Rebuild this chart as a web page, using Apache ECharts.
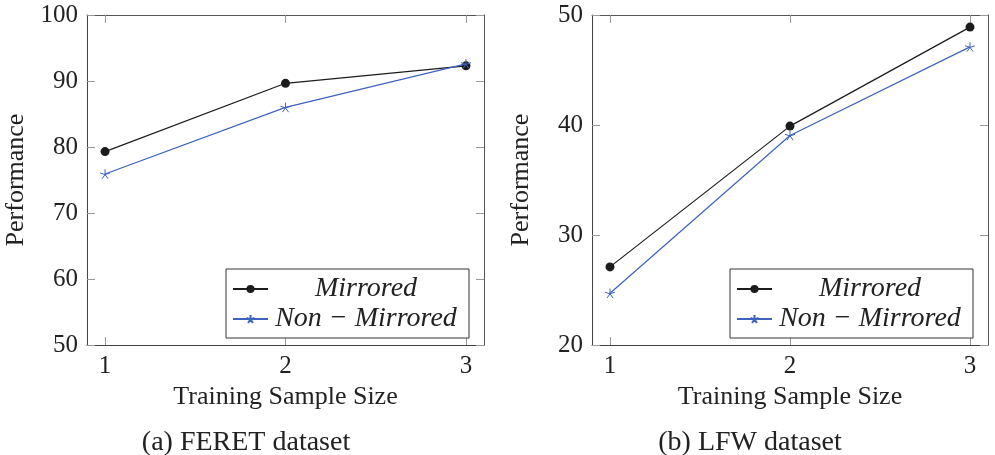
<!DOCTYPE html>
<html>
<head>
<meta charset="utf-8">
<script src="https://cdn.jsdelivr.net/npm/echarts@6/dist/echarts.min.js"></script>
<style>
html,body{margin:0;padding:0;background:#fff;}
#chart{width:995px;height:455px;}
</style>
</head>
<body>
<div id="chart"></div>
<script>
// ---- data ----
const xValues = [1, 2, 3];
const seriesNames = ['Mirrored', 'Non \u2212 Mirrored'];
const feretMirrored = [79.3, 89.65, 92.3];
const feretNonMirrored = [75.9, 86.0, 92.6];
const lfwMirrored = [27.1, 39.9, 48.9];
const lfwNonMirrored = [24.7, 39.05, 47.1];
const feretYTicks = [50, 100];
const lfwYTicks = [20, 50];
const captions = ['(a) FERET dataset', '(b) LFW dataset'];
const xAxisTitle = 'Training Sample Size';
const yAxisTitle = 'Performance';

// ---- styles ----
const FONT = 'Liberation Serif';
const BLACK = '#1c1c1c';
const BLUE = '#3d63bf';
const STAR = 'path://M5,0 L5,5 M9.755,3.455 L5,5 M7.939,9.045 L5,5 M2.061,9.045 L5,5 M0.245,3.455 L5,5';

const chart = echarts.init(document.getElementById('chart'), null, {renderer: 'canvas'});

const grids = [
  {left: 87, top: 15, width: 397, height: 330},
  {left: 592, top: 15, width: 396, height: 330}
];

function xAxes(gi) {
  return [
    {
      type: 'value', gridIndex: gi, position: 'bottom', min: 0.9, max: 3.1,
      name: xAxisTitle, nameLocation: 'middle', nameGap: 38,
      nameTextStyle: {fontFamily: FONT, fontSize: 26, color: '#222'},
      axisLine: {show: true, lineStyle: {color: '#444', width: 1}},
      axisTick: {show: true, inside: true, length: 8, customValues: xValues, lineStyle: {color: '#999'}},
      axisLabel: {show: true, customValues: xValues, margin: 9, fontFamily: FONT, fontSize: 25, color: '#222'},
      splitLine: {show: false}
    },
    {
      type: 'value', gridIndex: gi, position: 'top', min: 0.9, max: 3.1,
      axisLine: {show: true, lineStyle: {color: '#555', width: 1}},
      axisTick: {show: true, inside: true, length: 8, customValues: xValues, lineStyle: {color: '#999'}},
      axisLabel: {show: false},
      splitLine: {show: false}
    }
  ];
}

function yAxes(gi, range) {
  return [
    {
      type: 'value', gridIndex: gi, position: 'left', min: range[0], max: range[1], interval: 10,
      name: yAxisTitle, nameLocation: 'middle', nameGap: 58, nameRotate: 90,
      nameTextStyle: {fontFamily: FONT, fontSize: 26, color: '#222'},
      axisLine: {show: true, lineStyle: {color: '#444', width: 1}},
      axisTick: {show: true, inside: true, length: 8, lineStyle: {color: '#999'}},
      axisLabel: {show: true, margin: 9, fontFamily: FONT, fontSize: 25, color: '#222'},
      splitLine: {show: false}
    },
    {
      type: 'value', gridIndex: gi, position: 'right', min: range[0], max: range[1], interval: 10,
      axisLine: {show: true, lineStyle: {color: '#555', width: 1}},
      axisTick: {show: true, inside: true, length: 8, lineStyle: {color: '#999'}},
      axisLabel: {show: false},
      splitLine: {show: false}
    }
  ];
}

function pairs(vals) { return xValues.map((x, i) => [x, vals[i]]); }

function mirroredSeries(xi, yi, vals) {
  return {
    name: seriesNames[0], type: 'line', xAxisIndex: xi, yAxisIndex: yi,
    data: pairs(vals), symbol: 'circle', symbolSize: 9,
    itemStyle: {color: BLACK},
    lineStyle: {color: BLACK, width: 1.2},
    emphasis: {disabled: true}, animation: false, z: 2
  };
}
function nonMirroredSeries(xi, yi, vals) {
  return {
    name: seriesNames[1], type: 'line', xAxisIndex: xi, yAxisIndex: yi,
    data: pairs(vals), symbol: STAR, symbolSize: 10, symbolKeepAspect: true,
    itemStyle: {color: 'none', borderColor: BLUE, borderWidth: 1},
    lineStyle: {color: BLUE, width: 1.2},
    emphasis: {disabled: true}, animation: false, z: 3
  };
}

function legend(left) {
  return {
    show: true, orient: 'vertical', left: left, top: 269,
    data: seriesNames,
    backgroundColor: '#fff', borderColor: '#333', borderWidth: 1,
    padding: [6, 10, 5, 6], itemGap: 2, itemWidth: 35, itemHeight: 10,
    formatter: name => '{t|' + name + '}',
    textStyle: {
      fontFamily: FONT, fontStyle: 'italic', fontSize: 28, color: '#222',
      rich: {t: {width: 186, align: 'center', lineHeight: 28, fontFamily: FONT, fontStyle: 'italic', fontSize: 28, color: '#222'}}
    },
    selectedMode: false
  };
}

const option = {
  backgroundColor: '#fff',
  animation: false,
  title: [
    {text: captions[0], left: 241, top: 424, textAlign: 'center',
     textStyle: {fontFamily: FONT, fontSize: 28, fontWeight: 'normal', color: '#222'}},
    {text: captions[1], left: 745, top: 424, textAlign: 'center',
     textStyle: {fontFamily: FONT, fontSize: 28, fontWeight: 'normal', color: '#222'}}
  ],
  grid: grids,
  xAxis: [...xAxes(0), ...xAxes(1)],
  yAxis: [...yAxes(0, feretYTicks), ...yAxes(1, lfwYTicks)],
  legend: [legend(226), legend(730)],
  series: [
    mirroredSeries(0, 0, feretMirrored),
    nonMirroredSeries(0, 0, feretNonMirrored),
    mirroredSeries(2, 2, lfwMirrored),
    nonMirroredSeries(2, 2, lfwNonMirrored)
  ]
};
chart.setOption(option);
</script>
</body>
</html>
